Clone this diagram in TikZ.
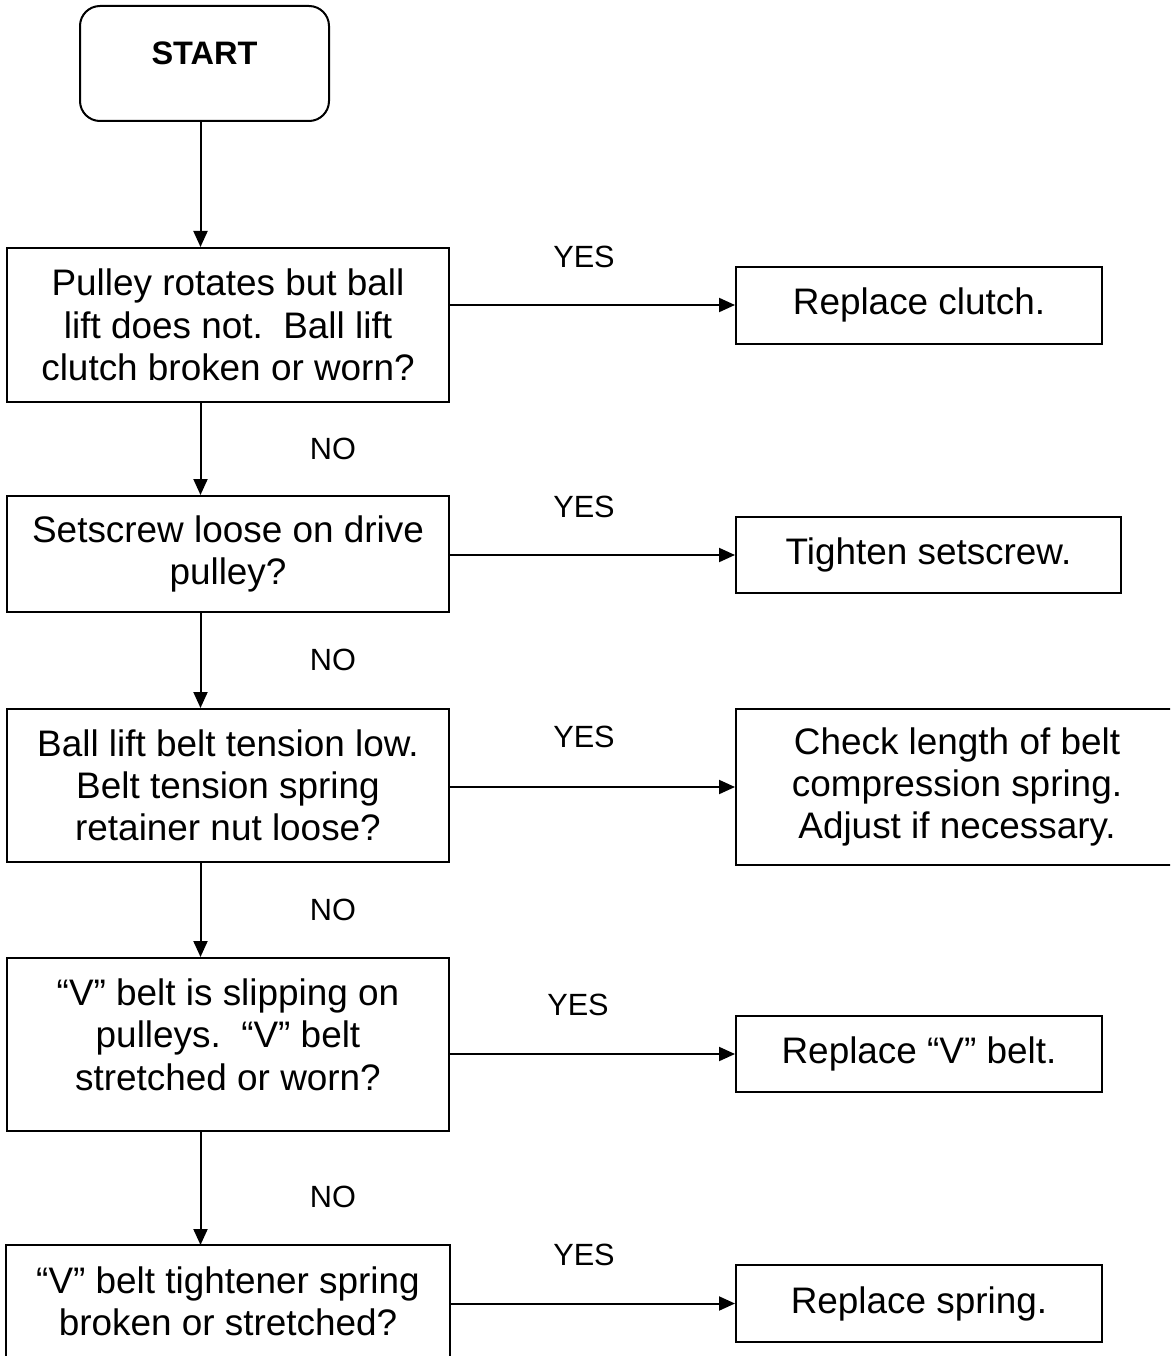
\documentclass[tikz,border=0pt]{standalone}
\usepackage{fontspec}
\setmainfont{Liberation Sans}
\usetikzlibrary{arrows.meta}
\begin{document}
\begin{tikzpicture}[x=1pt,y=-1pt,
  line width=2pt,
  txt/.style={align=center, inner sep=0pt, font=\fontsize{36.9}{42.3}\selectfont},
  box/.style={draw, rectangle, txt},
  qbox/.style={box, minimum width=442pt},
  abox/.style={box, minimum width=366pt, minimum height=77pt},
  lbl/.style={font=\fontsize{30.7}{34}\selectfont, inner sep=0pt},
  arr/.style={-{Triangle[length=16pt,width=14pt]}}]
\useasboundingbox (0,0) rectangle (1170,1356);
\clip (0,0) rectangle (1170,1356);
\coordinate (spine) at (200.5,0);
% start
\node[draw, rounded corners=20pt, minimum width=249pt, minimum height=115pt,
  font=\fontsize{32.5}{38}\selectfont\bfseries, text height=23pt, text depth=20pt]
  (start) at (204.5,63.5) {START};
% questions
\node[qbox, minimum height=154pt] (b1) at (228,325)
  {Pulley rotates but ball\\lift does not.\ \ Ball lift\\clutch broken or worn?};
\node[qbox, minimum height=116pt] (b2) at (228,554)
  {Setscrew loose on drive\\pulley?};
\node[qbox, minimum height=153pt] (b3) at (228,785.5)
  {Ball lift belt tension low.\\Belt tension spring\\retainer nut loose?};
\node[qbox, minimum height=173pt,
  label={[name=b4t, txt, yshift=10pt]center:{“V” belt is slipping on\\pulleys.\ \ “V” belt\\stretched or worn?}}]
  (b4) at (228,1044.5) {};
\node[qbox, draw=none, minimum height=110pt] (b5) at (228,1301)
  {“V” belt tightener spring\\broken or stretched?};
\draw ([yshift=-20pt]b5.south west) -- (b5.north west) -- (b5.north east) -- ([yshift=-20pt]b5.south east);
% actions
\node[abox] (r1) at (919,305) {Replace clutch.};
\node[abox, minimum width=385pt, minimum height=76pt] (r2) at (928.5,555) {Tighten setscrew.};
\node[box, minimum width=442pt, minimum height=156pt] (r3) at (957,787)
  {Check length of belt\\compression spring.\\Adjust if necessary.};
\node[abox, minimum height=76pt] (r4) at (919,1054) {Replace “V” belt.};
\node[abox] (r5) at (919,1303.5) {Replace spring.};
% vertical connectors
\draw[arr] (start.south -| spine) -- (b1.north -| spine);
\draw[arr] (b1.south -| spine) -- (b2.north -| spine);
\draw[arr] (b2.south -| spine) -- (b3.north -| spine);
\draw[arr] (b3.south -| spine) -- (b4.north -| spine);
\draw[arr] (b4.south -| spine) -- (b5.north -| spine);
% horizontal connectors
\draw[arr] (r1.west -| b1.east) -- (r1.west);
\draw[arr] (r2.west -| b2.east) -- (r2.west);
\draw[arr] (r3.west -| b3.east) -- (r3.west);
\draw[arr] (r4.west -| b4.east) -- (r4.west);
\draw[arr] (r5.west -| b5.east) -- (r5.west);
% labels
\node[lbl] (y1) at (584,257) {YES};
\node[lbl] (y2) at (584,507) {YES};
\node[lbl] (y3) at (584,737) {YES};
\node[lbl] (y4) at (578,1005) {YES};
\node[lbl] (y5) at (584,1255) {YES};
\node[lbl] (n1) at (333,449) {NO};
\node[lbl] (n2) at (333,660) {NO};
\node[lbl] (n3) at (333,910) {NO};
\node[lbl] (n4) at (333,1197) {NO};
\end{tikzpicture}
\end{document}
